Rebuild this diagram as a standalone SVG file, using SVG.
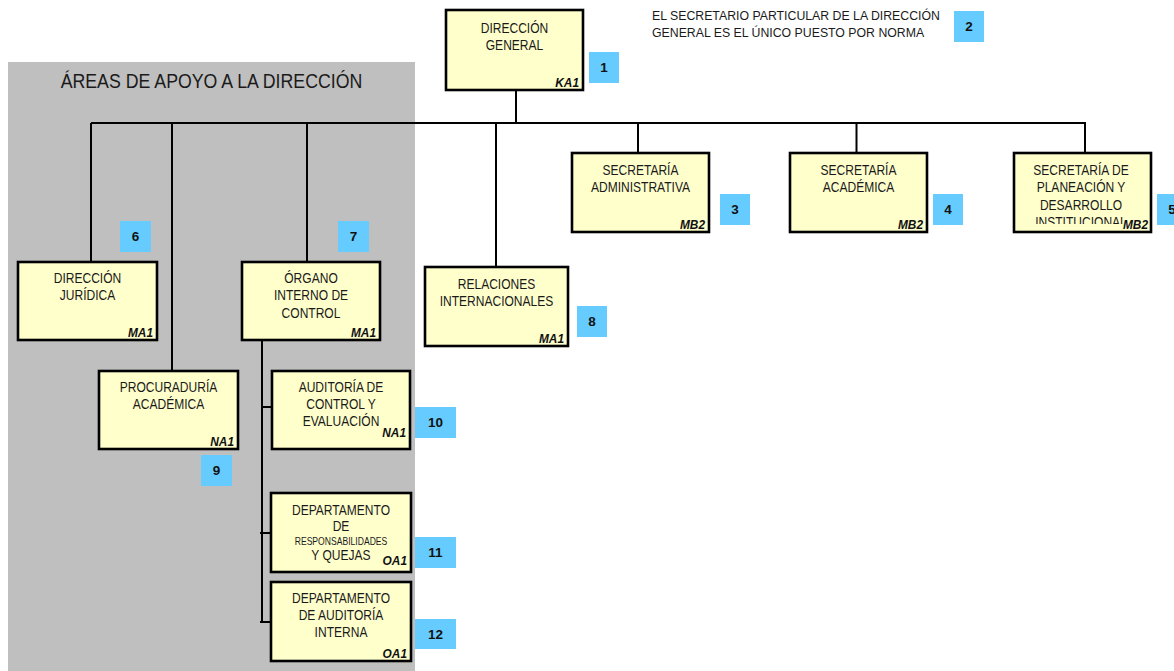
<svg xmlns="http://www.w3.org/2000/svg" width="1174" height="671" viewBox="0 0 1174 671">
<style>
.box{fill:#FFFFCC;stroke:#000;stroke-width:2.6}
.ln{stroke:#000;stroke-width:2;fill:none}
.t{font-family:"Liberation Sans",Arial,sans-serif;font-size:14px;fill:#1a1a1a;text-anchor:middle}
.s{font-size:10px}
.c{font-family:"Liberation Sans",Arial,sans-serif;font-size:12.5px;font-weight:bold;font-style:italic;fill:#111;text-anchor:end}
.bd{fill:#66CCFF}
.bn{font-family:"Liberation Sans",Arial,sans-serif;font-size:13.5px;font-weight:bold;fill:#111;text-anchor:middle}
.note{font-family:"Liberation Sans",Arial,sans-serif;font-size:12.3px;fill:#1a1a1a}
</style>
<defs>
<clipPath id="clipPlan"><rect x="1014" y="153" width="137" height="71"/></clipPath>
</defs>
<rect id="area" x="8" y="62" width="407" height="609" fill="#BFBFBF"/>
<g transform="translate(211.5 88) scale(0.845 1)"><text class="t" x="0" y="0" style="font-size:21px">ÁREAS DE APOYO A LA DIRECCIÓN</text></g>

<g id="connectors">
<path class="ln" d="M91 123H1086"/>
<path class="ln" d="M516 90V123"/>
<path class="ln" d="M91 123V262"/>
<path class="ln" d="M172 123V371"/>
<path class="ln" d="M307 123V262"/>
<path class="ln" d="M496 123V267"/>
<path class="ln" d="M638 123V153"/>
<path class="ln" d="M856.5 123V153"/>
<path class="ln" d="M1085 123V153"/>
<path class="ln" d="M262 340V622"/>
<path class="ln" d="M262 407H272"/>
<path class="ln" d="M260 533H271"/>
<path class="ln" d="M260 622H271"/>
</g>

<g id="n-dg">
<rect class="box" x="446" y="10" width="137" height="80"/>
<g transform="translate(514.5 0) scale(0.86 1)"><text class="t" x="0" y="33">DIRECCIÓN</text><text class="t" x="0" y="50">GENERAL</text></g>
<text class="c" transform="translate(579 87) scale(0.95 1)">KA1</text>
</g>

<g id="note">
<text class="note" x="652" y="20">EL SECRETARIO PARTICULAR DE LA DIRECCIÓN</text>
<text class="note" x="652" y="37">GENERAL ES EL ÚNICO PUESTO POR NORMA</text>
</g>

<g id="n-sadm">
<rect class="box" x="572" y="153" width="137" height="79"/>
<g transform="translate(640.5 0) scale(0.86 1)"><text class="t" x="0" y="175">SECRETARÍA</text><text class="t" x="0" y="192.5">ADMINISTRATIVA</text></g>
<text class="c" transform="translate(705 229) scale(0.95 1)">MB2</text>
</g>

<g id="n-sacad">
<rect class="box" x="790" y="153" width="137" height="79"/>
<g transform="translate(858.5 0) scale(0.86 1)"><text class="t" x="0" y="175">SECRETARÍA</text><text class="t" x="0" y="192.5">ACADÉMICA</text></g>
<text class="c" transform="translate(923 229) scale(0.95 1)">MB2</text>
</g>

<g id="n-splan">
<rect class="box" x="1014" y="153" width="137" height="79"/>
<g clip-path="url(#clipPlan)"><g transform="translate(1081 0) scale(0.86 1)"><text class="t" x="0" y="175">SECRETARÍA DE</text><text class="t" x="0" y="192.3">PLANEACIÓN Y</text><text class="t" x="0" y="209.6">DESARROLLO</text><text class="t" x="0" y="227">INSTITUCIONAL</text></g></g>
<text class="c" transform="translate(1148 229) scale(0.95 1)">MB2</text>
</g>

<g id="n-jur">
<rect class="box" x="18" y="262" width="139" height="78"/>
<g transform="translate(87.5 0) scale(0.86 1)"><text class="t" x="0" y="283">DIRECCIÓN</text><text class="t" x="0" y="300.5">JURÍDICA</text></g>
<text class="c" transform="translate(153 337) scale(0.95 1)">MA1</text>
</g>

<g id="n-oic">
<rect class="box" x="242" y="262" width="138" height="78"/>
<g transform="translate(311 0) scale(0.86 1)"><text class="t" x="0" y="283">ÓRGANO</text><text class="t" x="0" y="300.5">INTERNO DE</text><text class="t" x="0" y="318">CONTROL</text></g>
<text class="c" transform="translate(376 337) scale(0.95 1)">MA1</text>
</g>

<g id="n-rel">
<rect class="box" x="425" y="267" width="143" height="79"/>
<g transform="translate(496.5 0) scale(0.86 1)"><text class="t" x="0" y="289">RELACIONES</text><text class="t" x="0" y="306.5">INTERNACIONALES</text></g>
<text class="c" transform="translate(564 343) scale(0.95 1)">MA1</text>
</g>

<g id="n-proc">
<rect class="box" x="99" y="371" width="139" height="78"/>
<g transform="translate(168.5 0) scale(0.86 1)"><text class="t" x="0" y="392">PROCURADURÍA</text><text class="t" x="0" y="409">ACADÉMICA</text></g>
<text class="c" transform="translate(234 446) scale(0.95 1)">NA1</text>
</g>

<g id="n-ace">
<rect class="box" x="272" y="371" width="138" height="78"/>
<g transform="translate(341 0) scale(0.86 1)"><text class="t" x="0" y="392">AUDITORÍA DE</text><text class="t" x="0" y="409">CONTROL Y</text><text class="t" x="0" y="426.5">EVALUACIÓN</text></g>
<text class="c" transform="translate(406 437) scale(0.95 1)">NA1</text>
</g>

<g id="n-drq">
<rect class="box" x="271" y="493" width="140" height="79"/>
<g transform="translate(341 0) scale(0.86 1)"><text class="t" x="0" y="515.5">DEPARTAMENTO</text><text class="t" x="0" y="531">DE</text><text class="t s" x="0" y="545">RESPONSABILIDADES</text><text class="t" x="0" y="560.5">Y QUEJAS</text></g>
<text class="c" transform="translate(407 565) scale(0.95 1)">OA1</text>
</g>

<g id="n-dai">
<rect class="box" x="271" y="582" width="140" height="79"/>
<g transform="translate(341 0) scale(0.86 1)"><text class="t" x="0" y="603">DEPARTAMENTO</text><text class="t" x="0" y="620">DE AUDITORÍA</text><text class="t" x="0" y="637">INTERNA</text></g>
<text class="c" transform="translate(407 658) scale(0.95 1)">OA1</text>
</g>

<g id="badges">
<g id="b1"><rect class="bd" x="589" y="52" width="30" height="31"/><text class="bn" x="604" y="72">1</text></g>
<g id="b2"><rect class="bd" x="954" y="11" width="30" height="31"/><text class="bn" x="969" y="31">2</text></g>
<g id="b3"><rect class="bd" x="720" y="194" width="30" height="31"/><text class="bn" x="735" y="214">3</text></g>
<g id="b4"><rect class="bd" x="933" y="194" width="30" height="31"/><text class="bn" x="948" y="214">4</text></g>
<g id="b5"><rect class="bd" x="1157" y="194" width="30" height="31"/><text class="bn" x="1172" y="214">5</text></g>
<g id="b6"><rect class="bd" x="120" y="221" width="31" height="31"/><text class="bn" x="135.5" y="241">6</text></g>
<g id="b7"><rect class="bd" x="338" y="221" width="31" height="31"/><text class="bn" x="353.5" y="241">7</text></g>
<g id="b8"><rect class="bd" x="577" y="306" width="30" height="31"/><text class="bn" x="592" y="326">8</text></g>
<g id="b9"><rect class="bd" x="201" y="455" width="31" height="31"/><text class="bn" x="216.5" y="475">9</text></g>
<g id="b10"><rect class="bd" x="415" y="407" width="41" height="31"/><text class="bn" x="435.5" y="427">10</text></g>
<g id="b11"><rect class="bd" x="415" y="537" width="41" height="31"/><text class="bn" x="435.5" y="557">11</text></g>
<g id="b12"><rect class="bd" x="415" y="619" width="41" height="30"/><text class="bn" x="435.5" y="639">12</text></g>
</g>
</svg>
